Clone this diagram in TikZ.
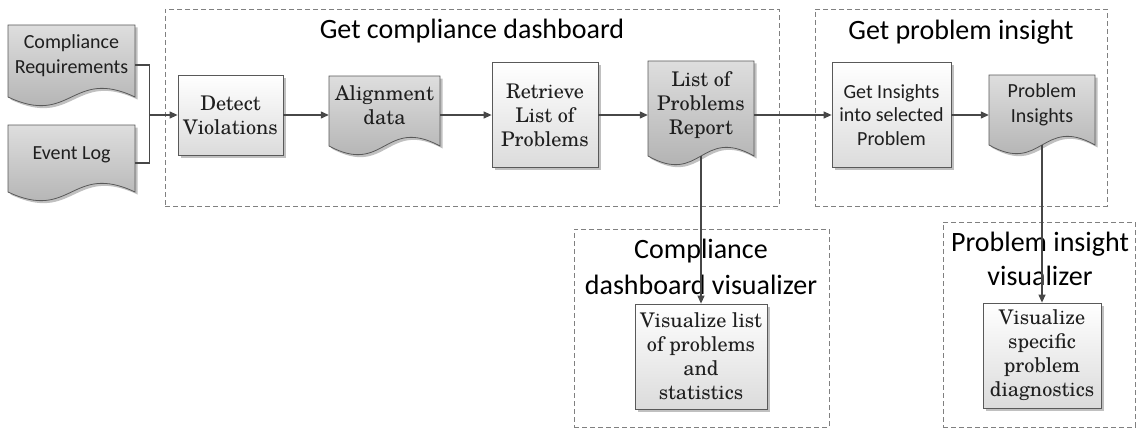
\documentclass[tikz,border=0pt]{standalone}
\usepackage{fontspec}
\newfontfamily\carl{Carlito}
\newfontfamily\schola{TeX Gyre Schola}
\usetikzlibrary{arrows.meta,shadows,backgrounds,calc}

% document symbol with a wavy foot, drawn behind the text node #1
% #2 half width, #3 rise to the top edge, #4 drop to the ends of the wave
\newcommand\docshape[4]{%
  \path[docbody]
    ([shift={(-#2,-#3)}]#1.center) -- ([shift={(#2,-#3)}]#1.center)
    -- ([shift={(#2,#4)}]#1.center)
    .. controls ([shift={(0,#4-30)}]#1.center) and ([shift={(0,#4+30)}]#1.center)
    .. ([shift={(-#2,#4)}]#1.center) -- cycle;
  \coordinate (#1-foot) at ([shift={(0,#4)}]#1.center);
}

\begin{document}
\begin{tikzpicture}[x=1pt,y=-1pt,
  edge/.style={draw=black!72, line width=1.2pt},
  arr/.style={edge, -{Triangle[length=8pt,width=7pt]}},
  softshadow/.style={drop shadow={shadow xshift=2.5pt, shadow yshift=-2.5pt, fill=black!45, opacity=0.55}},
  stepbox/.style={draw=black!65, line width=0.8pt, top color=white, bottom color=black!14,
    softshadow, inner sep=0pt, align=center, text=black!88, font=\schola\fontsize{20.2}{24}\selectfont},
  sansbox/.style={stepbox, font=\carl\fontsize{20}{23.5}\selectfont},
  doctext/.style={inner sep=0pt, align=center, text=black!88},
  serifdoc/.style={doctext, font=\schola\fontsize{20.2}{24}\selectfont},
  sansdoc/.style={doctext, font=\carl\fontsize{20}{25}\selectfont},
  docbody/.style={draw=black!65, line width=0.8pt, top color=black!13, bottom color=black!33, softshadow},
  group/.style={draw=black!50, dash pattern=on 5pt off 3pt, line width=0.8pt, inner sep=0pt},
  title/.style={font=\carl\fontsize{28}{36}\selectfont, align=center},
]
\useasboundingbox (0,0) rectangle (1137,428);

% dashed groups
\node[group, minimum width=614pt, minimum height=197pt] (g1) at (472,107.5) {};
\node[group, minimum width=292pt, minimum height=197pt] (g2) at (961,107.5) {};
\node[group, minimum width=255pt, minimum height=198pt] (g3) at (701.5,328) {};
\node[group, minimum width=192pt, minimum height=205pt] (g4) at (1039,324.5) {};

% group titles
\node[title] (t1) at (472,31) {Get compliance dashboard};
\node[title] (t2) at (961,32) {Get problem insight};
\node[title] (t3) at (701,266.5) {Compliance\\dashboard visualizer};
\node[title, font=\carl\fontsize{28}{34.5}\selectfont] (t4) at (1040,259) {Problem insight\\visualizer};

% documents (text part)
\node[sansdoc, minimum width=127pt] (cr) at (71.5,56) {Compliance\\Requirements};
\node[sansdoc, minimum width=127pt] (el) at (71.5,155) {Event Log};
\node[serifdoc, minimum width=111pt] (ad) at (384.5,105.5) {Alignment\\data};
\node[serifdoc, minimum width=106pt] (lp) at (701,105) {List of\\Problems\\Report};
\node[sansdoc, minimum width=106pt] (pi) at (1042,105) {Problem\\Insights};

% process steps
\node[stepbox, minimum width=105pt, minimum height=80pt] (dv) at (230.5,115) {Detect\\Violations};
\node[stepbox, minimum width=106pt, minimum height=105pt] (rl) at (545,115) {Retrieve\\List of\\Problems};
\node[sansbox, minimum width=119pt, minimum height=105pt] (gi) at (891.5,115) {Get Insights\\into selected\\Problem};
\node[stepbox, minimum width=132pt, minimum height=105pt] (vl) at (701,356.5) {Visualize list\\of problems\\and\\statistics};
\node[stepbox, minimum width=118pt, minimum height=105pt] (vs) at (1042,355.5) {Visualize\\specific\\problem\\diagnostics};

% document outlines
\begin{scope}[on background layer]
  \docshape{cr}{63.5}{31}{41}
  \docshape{el}{63.5}{30}{37}
  \docshape{ad}{55.5}{29.5}{40.5}
  \docshape{lp}{53}{44}{51}
  \docshape{pi}{53}{30}{40}
\end{scope}

% connectors
\coordinate (jn) at ($(dv.west)+(-28,0)$);
\draw[edge] ([yshift=-9pt]cr.east) -| (jn) |- ([yshift=-8pt]el.east);
\draw[arr] (jn) -- (dv.west);
\draw[arr] (dv.east) -- (dv.east -| ad.west);
\draw[arr] (ad.east |- rl.west) -- (rl.west);
\draw[arr] (rl.east) -- (rl.east -| lp.west);
\draw[arr] (lp.east |- gi.west) -- (gi.west);
\draw[arr] (gi.east) -- (gi.east -| pi.west);
\draw[arr] (lp-foot) -- (vl.north);
\draw[arr] (pi-foot) -- (vs.north);
\end{tikzpicture}
\end{document}
